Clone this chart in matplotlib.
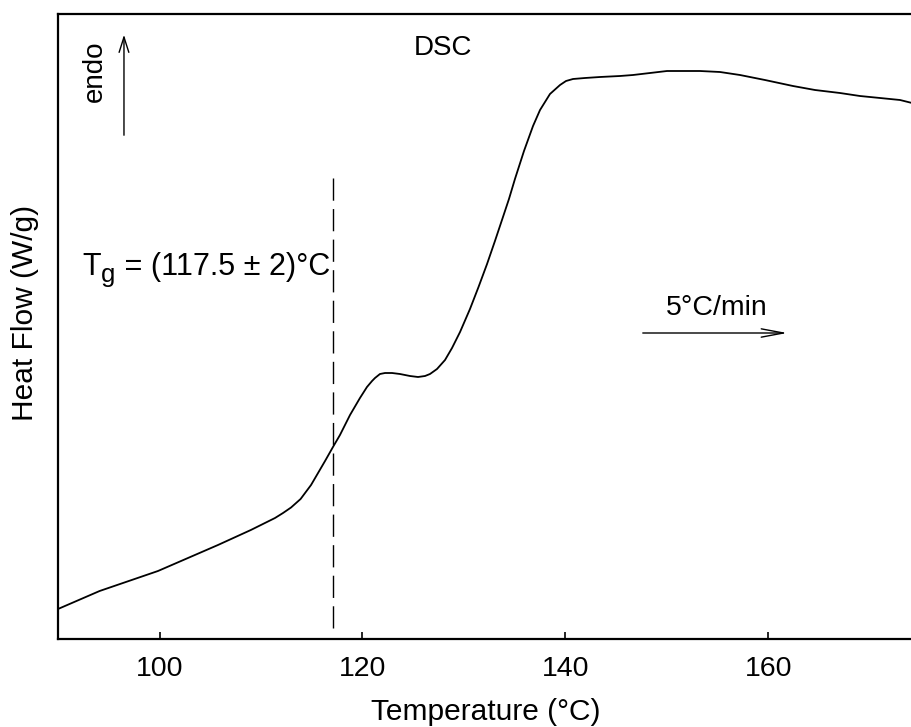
import matplotlib
matplotlib.use("Agg")
import matplotlib.pyplot as plt

# ---- data ----
temperature = [90.0, 94.1, 99.85, 105.76, 109.0, 111.38, 112.17, 112.96, 113.9,
               114.93, 115.62, 116.31, 117.09, 117.78, 118.77, 119.75, 120.44,
               120.94, 121.23, 121.72, 122.22, 122.91, 123.69, 124.68, 125.47,
               126.16, 126.65, 127.34, 128.13, 128.82, 129.61, 130.59, 131.43,
               132.27, 133.05, 133.84, 134.43, 135.02, 135.91, 136.80, 137.49,
               138.47, 139.46, 140.05, 140.74, 141.92, 143.40, 145.37, 146.65,
               148.33, 150.0, 151.97, 153.25, 155.22, 157.19, 159.65, 162.41,
               164.58, 167.04, 169.01, 170.99, 172.96, 174.14, 175.0]
heat_flow = [30, 48, 68, 94, 109, 121, 126, 131.5, 140,
             154, 166, 178, 192, 204, 224, 241, 252,
             258, 261, 265, 266, 266, 265, 263, 262,
             263, 265, 270, 279, 291, 307, 330, 352,
             375, 398, 422, 440, 460, 488, 513, 529,
             545, 554, 558, 560, 561, 562, 563, 564,
             566, 568, 568, 568, 567, 564, 559, 553,
             549, 546, 543, 541, 539, 536, 535]
xticks = [100, 120, 140, 160]
tg_value = 117.1
tg_main = "T"
tg_sub = "g"
tg_rest = " = (117.5 ± 2)°C"
rate_label = "5°C/min"
title_label = "DSC"
endo_label = "endo"
xlabel = "Temperature (°C)"
ylabel = "Heat Flow (W/g)"

plt.rcParams['font.family'] = ['Liberation Sans', 'DejaVu Sans']

W, H = 912, 727
fig = plt.figure(figsize=(W / 100, H / 100), dpi=100)
left_px, bottom_px, top_px = 58, 639, 14
xmin, xmax = 90, 175
pxper = 10.15
width_px = (xmax - xmin) * pxper
ax = fig.add_axes([left_px / W, (H - bottom_px) / H, width_px / W, (bottom_px - top_px) / H])
ax.set_xlim(xmin, xmax)
ax.set_ylim(0, bottom_px - top_px)

ax.plot(temperature, heat_flow, color='black', lw=1.3, solid_joinstyle='round')

# Tg dashed line
ax.plot([tg_value, tg_value], [11, 461], color='black', lw=1.0, linestyle=(0, (16, 6)))

# Tg label built from pieces (large subscript like the reference)
t1 = ax.text(92.36, 364, tg_main, fontsize=22, ha='left', va='baseline')
t2 = ax.annotate(tg_sub, xy=(1, 0), xycoords=t1, xytext=(0.5, 0), textcoords='offset points',
                 fontsize=18.5, ha='left', va='baseline')
t3 = ax.annotate(tg_rest, xy=(1, 0), xycoords=(t2, t1), fontsize=22, ha='left', va='bottom')

ax.text(127.9, 591, title_label, fontsize=20, ha='center', va='center')

# endo arrow
ax.annotate('', xy=(96.5, 607), xytext=(96.5, 501),
            arrowprops=dict(arrowstyle='->,head_length=1.1,head_width=0.35', color='black', lw=1.0))
ax.text(93.6, 568, endo_label, fontsize=20, rotation=90, ha='center', va='center')

# rate arrow
ax.annotate('', xy=(162.12, 306), xytext=(147.34, 306),
            arrowprops=dict(arrowstyle='->,head_length=1.6,head_width=0.3', color='black', lw=1.0))
ax.text(154.9, 331, rate_label, fontsize=20.5, ha='center', va='center')

ax.set_xticks(xticks)
ax.set_xticklabels([str(t) for t in xticks])
ax.set_yticks([])
ax.tick_params(axis='x', direction='in', length=5, width=1.2, labelsize=20.5, pad=12, top=False)
for s in ['left', 'bottom', 'top']:
    ax.spines[s].set_linewidth(1.6)
ax.spines['right'].set_visible(False)

ax.set_xlabel(xlabel, fontsize=21.5)
ax.xaxis.set_label_coords((486 - left_px) / width_px, -(712 - bottom_px) / (bottom_px - top_px))
ax.xaxis.label.set_va('center')
ax.set_ylabel(ylabel, fontsize=21.5, va='center')
ax.yaxis.set_label_coords((25 - left_px) / width_px, (bottom_px - 313) / (bottom_px - top_px))

fig.savefig("out.png", dpi=100)
